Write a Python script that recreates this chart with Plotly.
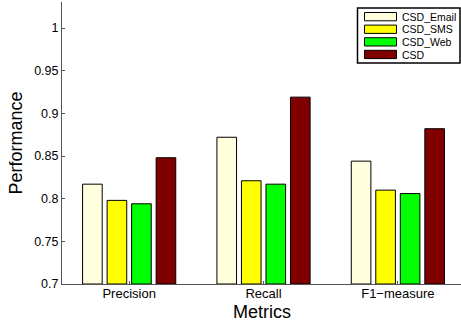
import plotly.graph_objects as go

categories = ["Precision", "Recall", "F1\u2212measure"]
series_names = ["CSD_Email", "CSD_SMS", "CSD_Web", "CSD"]
csd_email = [0.817, 0.872, 0.844]
csd_sms = [0.798, 0.821, 0.810]
csd_web = [0.794, 0.817, 0.806]
csd = [0.848, 0.919, 0.882]
colors = ["#FFFFDD", "#FFFF00", "#00FF00", "#800000"]
y_ticks = [0.7, 0.75, 0.8, 0.85, 0.9, 0.95, 1]
y_tick_labels = ["0.7", "0.75", "0.8", "0.85", "0.9", "0.95", "1"]

W, H = 461, 322
ML, MR, MT, MB = 62, 0, 2, 38
PW, PH = W - ML - MR, H - MT - MB


def px(xp):
    return (xp - ML) / PW


def py(yp):
    return (H - MB - yp) / PH


x_pos = [1, 2, 3]
fig = go.Figure()
for name, vals, col in zip(series_names, [csd_email, csd_sms, csd_web, csd], colors):
    fig.add_trace(go.Bar(
        x=x_pos, y=[v - 0.7 for v in vals], base=0.7, name=name,
        marker=dict(color=col, line=dict(color="black", width=1)),
        showlegend=False,
    ))

font = "Liberation Sans, Arial, sans-serif"

# custom legend (MATLAB style)
shapes = [dict(type="rect", xref="paper", yref="paper",
               x0=px(357.5), x1=px(460), y0=py(63), y1=py(8),
               line=dict(color="black", width=1.5), fillcolor="white", layer="above")]
annotations = []
for i, (name, col) in enumerate(zip(series_names, colors)):
    top = 12.5 + i * 12.6
    shapes.append(dict(type="rect", xref="paper", yref="paper",
                       x0=px(364.5), x1=px(396.5), y0=py(top + 8.3), y1=py(top),
                       line=dict(color="black", width=1), fillcolor=col, layer="above"))
    annotations.append(dict(xref="paper", yref="paper", x=px(400), y=py(top + 4.2),
                            xanchor="left", yanchor="middle", showarrow=False,
                            text=name, font=dict(size=10.5, family=font, color="black")))

annotations.append(dict(xref="paper", yref="paper", x=0.5, y=py(300),
                        xanchor="center", yanchor="top", showarrow=False,
                        text="Metrics", font=dict(size=18, family=font, color="black")))
annotations.append(dict(xref="paper", yref="paper", x=px(15.5), y=0.5,
                        xanchor="center", yanchor="middle", showarrow=False, textangle=-90,
                        text="Performance", font=dict(size=18, family=font, color="black")))

fig.update_layout(
    width=W, height=H,
    margin=dict(l=ML, r=MR, t=MT, b=MB),
    paper_bgcolor="white", plot_bgcolor="white",
    barmode="group", bargap=0.27, bargroupgap=0.2,
    font=dict(family=font, color="black", size=12),
    showlegend=False,
    shapes=shapes, annotations=annotations,
    xaxis=dict(
        range=[0.5, 3.47], tickvals=x_pos, ticktext=categories,
        showline=True, linecolor="#555555", linewidth=1,
        ticks="inside", ticklen=3, tickcolor="#555555",
        showgrid=False, zeroline=False,
        tickfont=dict(size=13), ticklabelstandoff=-3,
    ),
    yaxis=dict(
        range=[0.7, 1.0305], tickvals=y_ticks, ticktext=y_tick_labels,
        showline=True, linecolor="#555555", linewidth=1,
        ticks="inside", ticklen=3, tickcolor="#555555",
        showgrid=False, zeroline=False,
        tickfont=dict(size=12.5),
    ),
)
fig.write_html(
    "out.html",
    config={"displayModeBar": False},
    post_script="document.body.style.margin='0';document.body.style.overflow='hidden';",
)
